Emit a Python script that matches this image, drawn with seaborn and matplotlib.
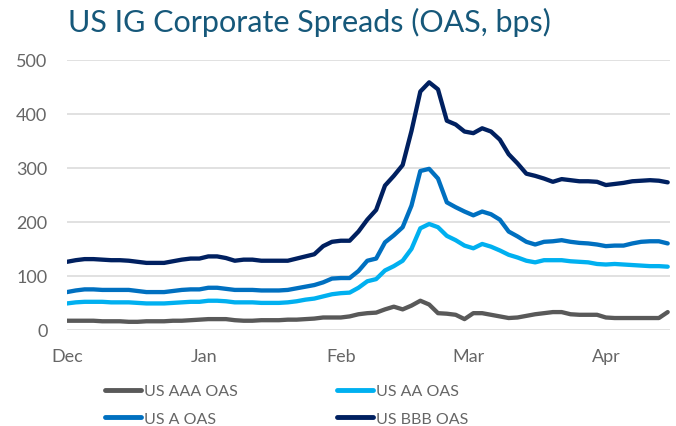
import pandas as pd
import matplotlib
matplotlib.use("Agg")
import matplotlib.pyplot as plt
import matplotlib.dates as mdates
from matplotlib.lines import Line2D
import seaborn as sns

# Dates every 2 days from Dec 1 to Apr 15
dates = pd.date_range("2019-12-01", periods=69, freq="2D")

aaa = [17, 17, 17, 17, 16, 16, 16, 15, 15, 16, 16, 16, 17, 17, 18, 19, 20, 20, 20, 18,
       17, 17, 18, 18, 18, 19, 19, 20, 21, 23, 23, 23, 25, 29, 31, 32, 38, 43, 38, 45,
       54, 47, 31, 30, 28, 20, 31, 31, 28, 25, 22, 23, 26, 29, 31, 33, 33, 29, 28, 28,
       28, 23, 22, 22, 22, 22, 22, 22, 33]
aa = [49, 51, 52, 52, 52, 51, 51, 51, 50, 49, 49, 49, 50, 51, 52, 52, 54, 54, 53, 51,
      51, 51, 50, 50, 50, 51, 53, 56, 58, 62, 66, 68, 69, 78, 90, 94, 110, 118, 128, 150,
      188, 196, 190, 174, 166, 156, 151, 159, 154, 147, 139, 134, 128, 125, 129, 129, 129, 127, 126, 125,
      122, 121, 122, 121, 120, 119, 118, 118, 117]
a = [70, 73, 75, 75, 74, 74, 74, 74, 72, 70, 70, 70, 72, 74, 75, 75, 78, 78, 76, 74,
     74, 74, 73, 73, 73, 74, 77, 80, 83, 88, 95, 96, 96, 109, 128, 132, 162, 175, 190, 230,
     294, 298, 280, 236, 227, 219, 212, 219, 214, 204, 182, 173, 163, 158, 163, 164, 166, 163, 161, 160,
     158, 155, 156, 156, 160, 163, 164, 164, 160]
bbb = [126, 129, 131, 131, 130, 129, 129, 128, 126, 124, 124, 124, 127, 130, 132, 132, 136, 136, 133, 128,
       130, 130, 128, 128, 128, 128, 132, 136, 140, 155, 163, 165, 165, 182, 204, 222, 267, 285, 305, 368,
       441, 458, 445, 387, 380, 367, 364, 373, 367, 352, 325, 308, 289, 285, 280, 274, 279, 277, 275, 275,
       274, 268, 270, 272, 275, 276, 277, 276, 273]

series_names = ["US AAA OAS", "US AA OAS", "US A OAS", "US BBB OAS"]
colors = ["#595959", "#00B0F0", "#0070C0", "#002060"]

df = pd.DataFrame({"date": dates, "US AAA OAS": aaa, "US AA OAS": aa,
                   "US A OAS": a, "US BBB OAS": bbb})
long_df = df.melt(id_vars="date", var_name="series", value_name="oas")

sns.set_style("white")
plt.rcParams["font.family"] = ["Lato", "DejaVu Sans"]

fig = plt.figure(figsize=(6.76, 4.27), dpi=100)
ax = fig.add_axes([0.099, 0.225, 0.892, 0.633])

palette = dict(zip(series_names, colors))
sns.lineplot(data=long_df, x="date", y="oas", hue="series", palette=palette,
             linewidth=3.1, ax=ax, legend=False)

ax.set_ylim(0, 500)
ax.set_yticks(range(0, 501, 100))
ax.set_xlim(dates[0], dates[-1] + pd.Timedelta(days=0.5))
ax.xaxis.set_major_locator(mdates.MonthLocator())
ax.xaxis.set_major_formatter(mdates.DateFormatter("%b"))
ax.grid(axis="y", color="#D9D9D9", linewidth=1.1)
ax.set_axisbelow(True)
for s in ax.spines.values():
    s.set_visible(False)
ax.tick_params(axis="both", length=0, labelsize=13, labelcolor="#666666")
ax.tick_params(axis="x", pad=13)
ax.tick_params(axis="y", pad=14)
ax.set_xlabel("")
ax.set_ylabel("")

fig.text(0.1, 0.925, "US IG Corporate Spreads (OAS, bps)", fontsize=22,
         color="#16587A", ha="left", va="baseline")

# legend: row 1 AAA / AA, row 2 A / BBB
order = [0, 2, 1, 3]
handles = [Line2D([], [], color=colors[i], linewidth=3.5) for i in order]
labels = [series_names[i] for i in order]
fig.legend(handles, labels, ncol=2, loc="upper left", bbox_to_anchor=(0.143, 0.117),
           frameon=False, fontsize=11.5, labelcolor="#666666", handlelength=2.3,
           handletextpad=0.15, columnspacing=6.2, labelspacing=0.85, borderpad=0)

fig.savefig("out.png", dpi=100)
